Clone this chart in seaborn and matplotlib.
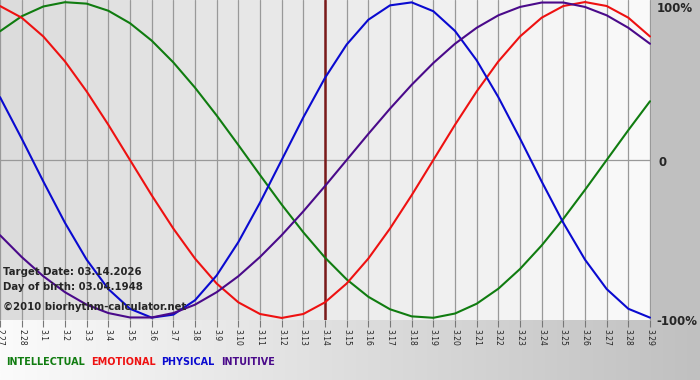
import numpy as np
import pandas as pd
import matplotlib
matplotlib.use("Agg")
import matplotlib.pyplot as plt
from matplotlib.colors import LinearSegmentedColormap
import seaborn as sns

# day labels along the bottom
days = ['2.27', '2.28', '3.1', '3.2', '3.3', '3.4', '3.5', '3.6', '3.7', '3.8',
        '3.9', '3.10', '3.11', '3.12', '3.13', '3.14', '3.15', '3.16', '3.17',
        '3.18', '3.19', '3.20', '3.21', '3.22', '3.23', '3.24', '3.25', '3.26',
        '3.27', '3.28', '3.29']
target_day = '3.14'

# cycle values in percent, one per day
intellectual = [81.5, 91.0, 97.2, 99.9, 99.0, 94.5, 86.6, 75.6, 61.8, 45.8, 28.2,
                9.5, -9.5, -28.2, -45.8, -61.8, -75.6, -86.6, -94.5, -99.0, -99.9,
                -97.2, -91.0, -81.5, -69.0, -54.1, -37.2, -18.9, 0.0, 18.9, 37.2]
emotional = [97.5, 90.1, 78.2, 62.4, 43.4, 22.3, 0.0, -22.3, -43.4, -62.4, -78.2,
             -90.1, -97.5, -100.0, -97.5, -90.1, -78.2, -62.4, -43.4, -22.3, 0.0,
             22.3, 43.4, 62.4, 78.2, 90.1, 97.5, 100.0, 97.5, 90.1, 78.2]
physical = [39.8, 13.6, -13.6, -39.8, -63.1, -81.7, -94.2, -99.8, -97.9, -88.8,
            -73.1, -52.0, -27.0, 0.0, 27.0, 52.0, 73.1, 88.8, 97.9, 99.8, 94.2,
            81.7, 63.1, 39.8, 13.6, -13.6, -39.8, -63.1, -81.7, -94.2, -99.8]
intuitive = [-47.6, -61.4, -73.6, -83.7, -91.6, -96.9, -99.7, -99.7, -96.9, -91.6,
             -83.7, -73.6, -61.4, -47.6, -32.5, -16.5, 0.0, 16.5, 32.5, 47.6, 61.4,
             73.6, 83.7, 91.6, 96.9, 99.7, 99.7, 96.9, 91.6, 83.7, 73.6]

names = ['INTELLECTUAL', 'EMOTIONAL', 'PHYSICAL', 'INTUITIVE']
colors = ['#107c10', '#ee1111', '#0a0ad0', '#4a0a8a']

rows = []
for name, vals in zip(names, [intellectual, emotional, physical, intuitive]):
    for i, v in enumerate(vals):
        rows.append({'day': i, 'value': v, 'cycle': name})
df = pd.DataFrame(rows)

sns.set_style("white")
plt.rcParams['font.family'] = ['DejaVu Sans']

W, H = 700, 380
fig = plt.figure(figsize=(7, 3.8), dpi=100, facecolor='#c0c0c0')

# bottom strip with a light-to-gray gradient
bg = fig.add_axes([0, 0, 1, 60 / H])
bg.imshow(np.linspace(0, 1, 256)[None, :], aspect='auto', extent=[0, 1, 0, 1],
          cmap=LinearSegmentedColormap.from_list('b', ['#fbfbfb', '#c0c0c0']))
bg.axis('off')

ax = fig.add_axes([0, 60 / H, 651 / W, 320 / H])
ax.set_zorder(2)
n = len(days)
xmax = (n - 1) * 651 / 650
ymin, ymax = -101.3, 101.3
ax.imshow(np.linspace(0, 1, 256)[None, :], aspect='auto',
          extent=[0, xmax, ymin, ymax], zorder=0,
          cmap=LinearSegmentedColormap.from_list('p', ['#dcdcdc', '#fafafa']))

# grid: one line per day and the zero line
for i in range(n):
    ax.axvline(i, color='#999999', lw=0.9, zorder=1)
ax.axhline(0, color='#999999', lw=0.9, zorder=1)
ax.axvline(days.index(target_day), color='#7a1a1a', lw=1.8, zorder=1)

sns.lineplot(data=df, x='day', y='value', hue='cycle', hue_order=names,
             palette=colors, linewidth=1.5, legend=False, ax=ax, zorder=3)

ax.set_xlim(0, xmax)
ax.set_ylim(ymin, ymax)
for s in ax.spines.values():
    s.set_visible(False)
ax.set_xlabel('')
ax.set_ylabel('')
ax.set_yticks([])
ax.set_xticks(range(n))
ax.set_xticklabels(days, rotation=270, fontsize=5.5)
ax.tick_params(axis='x', length=5, width=0.8, color='#777777', pad=1.5,
               bottom=True)

# right side labels
yt = ax.get_yaxis_transform()
ax.text(1.009, 96, '100%', transform=yt, fontsize=8.5, fontweight='bold',
        va='center', ha='left', clip_on=False)
ax.text(1.011, -1.5, '0', transform=yt, fontsize=8.5, fontweight='bold',
        va='center', ha='left', clip_on=False)
ax.text(1.009, -102.5, '-100%', transform=yt, fontsize=8.5, fontweight='bold',
        va='center', ha='left', clip_on=False)

# info text inside the plot
fig.text(3 / W, 1 - 272 / H, 'Target Date: 03.14.2026', fontsize=7.3,
         fontweight='bold', va='center', zorder=5)
fig.text(3 / W, 1 - 287 / H, 'Day of birth: 03.04.1948', fontsize=7.3,
         fontweight='bold', va='center', zorder=5)
fig.text(3 / W, 1 - 307 / H, '\u00a92010 biorhythm-calculator.net', fontsize=7.3,
         fontweight='bold', va='center', zorder=5)

# colored legend words, one after the other
renderer = fig.canvas.get_renderer()
x = 6
for name, c in zip(names, colors):
    t = fig.text(x / W, 1 - 362 / H, name, color=c, fontsize=6.9,
                 fontweight='bold', va='center')
    x += t.get_window_extent(renderer).width + 6

fig.savefig('out.png', dpi=100, facecolor=fig.get_facecolor())
